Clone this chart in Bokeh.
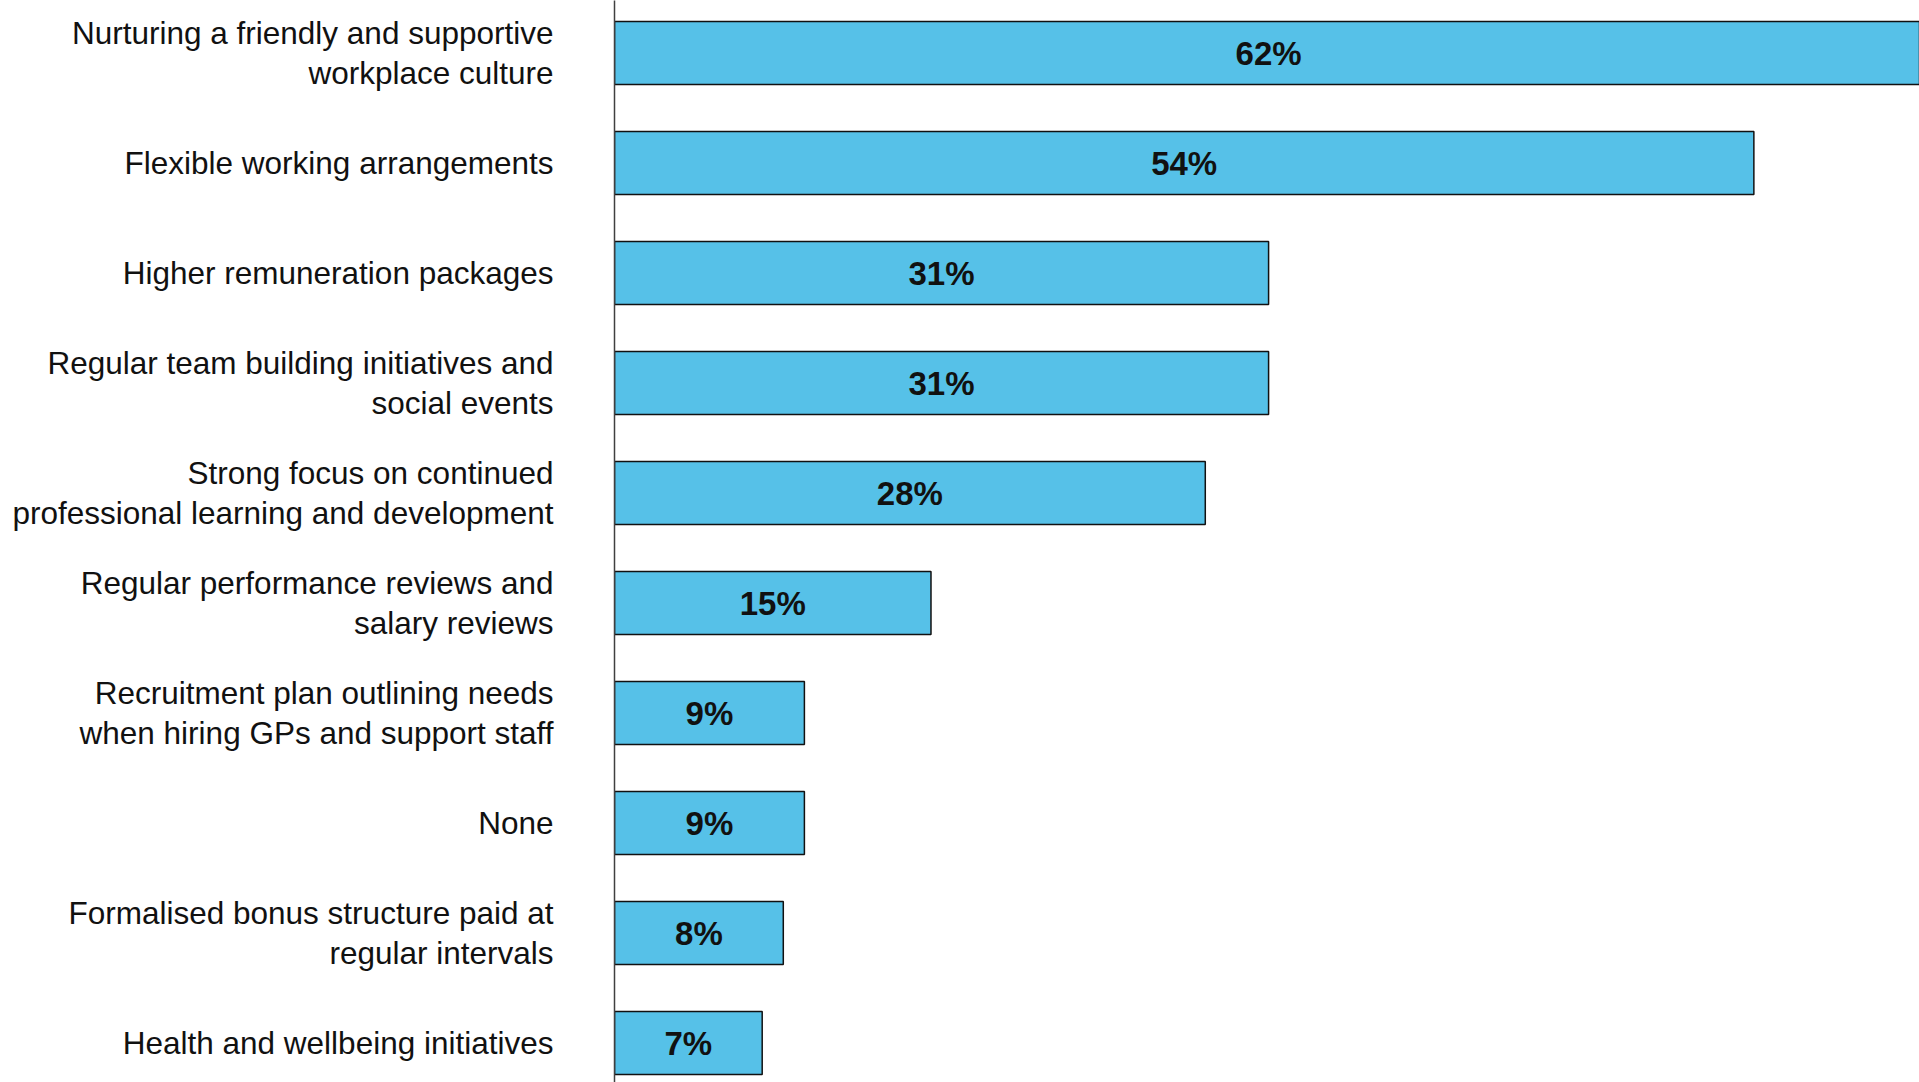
from bokeh.plotting import figure
from bokeh.models import ColumnDataSource, Range1d, FixedTicker
from bokeh.embed import file_html
from bokeh.resources import INLINE
from bokeh.core.properties import value

categories = [
    "Nurturing a friendly and supportive\nworkplace culture",
    "Flexible working arrangements",
    "Higher remuneration packages",
    "Regular team building initiatives and\nsocial events",
    "Strong focus on continued\nprofessional learning and development",
    "Regular performance reviews and\nsalary reviews",
    "Recruitment plan outlining needs\nwhen hiring GPs and support staff",
    "None",
    "Formalised bonus structure paid at\nregular intervals",
    "Health and wellbeing initiatives",
]
values = [62, 54, 31, 31, 28, 15, 9, 9, 8, 7]
value_labels = [f"{v}%" for v in values]

positions = list(range(len(categories)))

src = ColumnDataSource(dict(
    y=positions,
    v=values,
    half=[v / 2 for v in values],
    lab=value_labels,
))

p = figure(
    width=1919, height=1082,
    x_range=Range1d(0, 61.85),
    y_range=Range1d(start=9.359, end=-0.4773),
    output_backend="svg", toolbar_location=None,
    x_axis_location=None,
    min_border_left=614, min_border_right=0, min_border_top=0, min_border_bottom=0,
)
p.outline_line_color = None
p.xgrid.visible = False
p.ygrid.visible = False
p.background_fill_color = "white"

p.hbar(y="y", left=0, right="v", height=0.573, source=src,
       fill_color="#56C1E8", line_color="#111111", line_width=1.5)

p.text(x="half", y="y", text="lab", source=src,
       text_align="center", text_baseline="middle",
       text_font=value("Liberation Sans"), text_font_size="33px", text_font_style="bold",
       text_color="#111111")

ax = p.yaxis[0]
ax.ticker = FixedTicker(ticks=positions)
ax.major_label_overrides = {i: c for i, c in enumerate(categories)}
ax.major_tick_line_color = None
ax.minor_tick_line_color = None
ax.major_tick_out = 0
ax.major_tick_in = 0
ax.major_label_standoff = 61
ax.axis_line_color = "#404040"
ax.axis_line_width = 1.5
ax.major_label_text_font = "Liberation Sans"
ax.major_label_text_font_size = "31.5px"
ax.major_label_text_color = "#111111"
ax.major_label_text_line_height = 1.105

open("out.html", "w").write(file_html(p, INLINE))
